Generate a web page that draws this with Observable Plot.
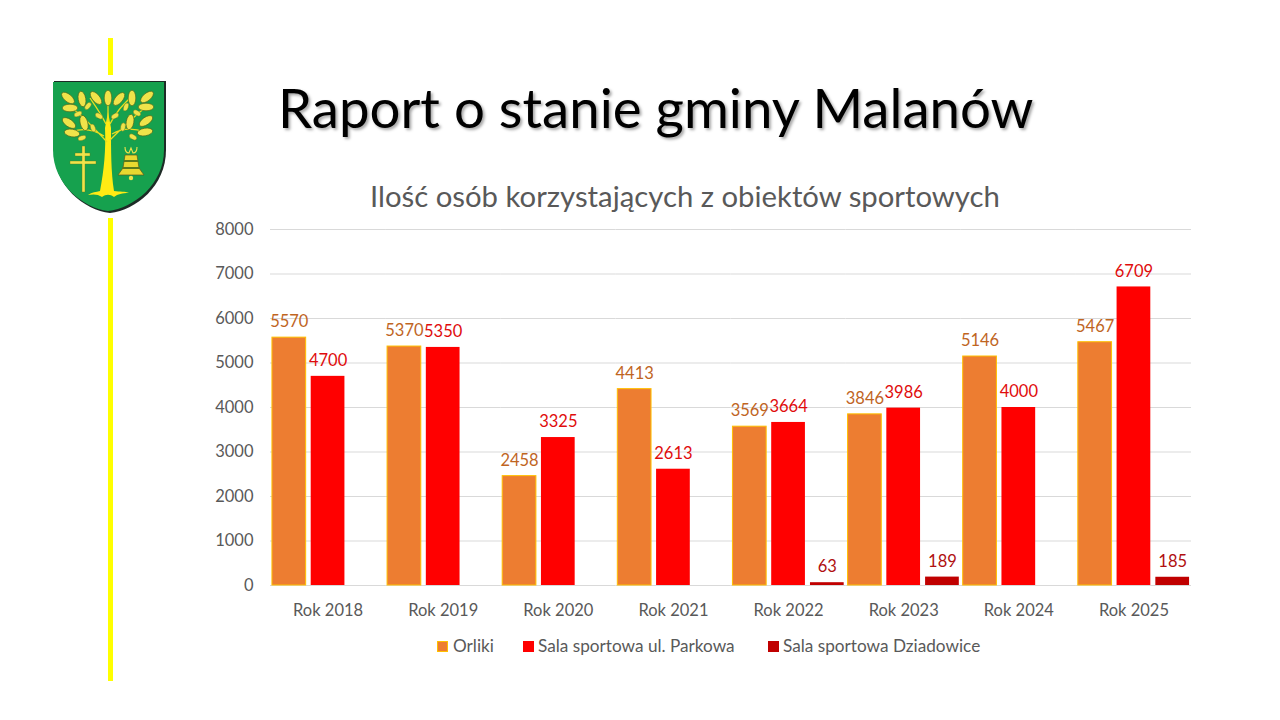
<!DOCTYPE html>
<html lang="pl">
<head>
<meta charset="utf-8">
<script src="https://cdn.jsdelivr.net/npm/d3@7"></script>
<script src="https://cdn.jsdelivr.net/npm/@observablehq/plot@0.6"></script>
<style>
  html,body{margin:0;padding:0;background:#fff;}
  #page{position:relative;width:1280px;height:720px;overflow:hidden;font-family:Lato,"Open Sans",sans-serif;}
  #crest{position:absolute;left:0;top:0;}
  #plot{position:absolute;left:0;top:0;width:1280px;height:720px;}
  .bar-line{position:absolute;left:108px;width:5px;background:#FFFF00;}
  h1{position:absolute;left:278px;top:72px;margin:0;font-weight:400;font-size:54.6px;line-height:70px;color:#000;white-space:nowrap;text-shadow:2px 2px 3px rgba(0,0,0,.35);}
  h2{position:absolute;left:370px;top:178px;margin:0;font-weight:400;font-size:29.3px;line-height:36px;color:#595959;white-space:nowrap;}
  #legend{position:absolute;top:635px;left:0;height:22px;font-size:17.2px;color:#595959;line-height:22px;}
  #legend span{position:absolute;white-space:nowrap;}
  #legend i{position:absolute;top:6px;width:11px;height:11px;box-sizing:border-box;}
</style>
</head>
<body>
<div id="page">
  <div class="bar-line" style="top:38px;height:37px"></div>
  <div class="bar-line" style="top:218px;height:463px"></div>
  <svg id="crest" width="1280" height="720" viewBox="0 0 1280 720" style="pointer-events:none"></svg>
  <h1>Raport o stanie gminy Malanów</h1>
  <h2>Ilość osób korzystających z obiektów sportowych</h2>
  <div id="plot"></div>
  <div id="legend"></div>
</div>
<script>
const years = ["Rok 2018","Rok 2019","Rok 2020","Rok 2021","Rok 2022","Rok 2023","Rok 2024","Rok 2025"];
const seriesNames = ["Orliki","Sala sportowa ul. Parkowa","Sala sportowa Dziadowice"];
const orliki = [5570,5370,2458,4413,3569,3846,5146,5467];
const parkowa = [4700,5350,3325,2613,3664,3986,4000,6709];
const dziadowice = [null,null,null,null,63,189,null,185];
const barColors = ["#ED7D31","#FF0000","#C00000"];
const labelColors = ["#C0651F","#E00C0C","#B01010"];
const yTicks = [0,1000,2000,3000,4000,5000,6000,7000,8000];

const rows = [];
[orliki,parkowa,dziadowice].forEach((vals,s)=>vals.forEach((v,i)=>{
  if(v!=null) rows.push({year:years[i],series:seriesNames[s],value:v});
}));

const chart = Plot.plot({
  width:1280,height:720,
  marginLeft:270,marginRight:89,marginTop:229,marginBottom:135,
  style:{background:"transparent",fontFamily:"Lato, sans-serif",fontSize:"16.5px",maxWidth:"none"},
  fx:{domain:years,paddingInner:0,paddingOuter:0,round:false,label:null},
  x:{domain:seriesNames,paddingInner:0.13,paddingOuter:0.05,round:false,axis:null},
  y:{domain:[0,8000],label:null},
  color:{domain:seriesNames,range:barColors},
  marks:[
    Plot.ruleY(yTicks,{stroke:"#D9D9D9",strokeWidth:1}),
    Plot.axisY({ticks:yTicks,tickSize:0,tickPadding:17,tickFormat:d=>String(d),fill:"#595959",label:null}),
    Plot.axisFx({anchor:"bottom",tickSize:0,tickPadding:19,fill:"#595959",label:null}),
    Plot.barY(rows,{fx:"year",x:"series",y:"value",fill:"series",
      stroke:d=>d.series===seriesNames[0]?"#FFC000":"none",strokeWidth:1}),
    Plot.text(rows,{fx:"year",x:"series",y:"value",text:d=>String(d.value),dy:-15.5,
      fill:d=>labelColors[seriesNames.indexOf(d.series)],fontSize:16.5})
  ]
});
document.getElementById("plot").appendChild(chart);

// Legend
const legend = document.getElementById("legend");
const legendX = [[437,453],[523,538],[768,783]];
seriesNames.forEach((n,i)=>{
  const sw=document.createElement("i");
  sw.style.left=legendX[i][0]+"px";
  sw.style.background=barColors[i];
  if(i===0) sw.style.border="1px solid #FFC000";
  legend.appendChild(sw);
  const t=document.createElement("span");
  t.style.left=legendX[i][1]+"px";
  t.textContent=n;
  legend.appendChild(t);
});

// Crest (decoration)
const leaves=[[68,98,40],[82,99,80],[96,98,50],[108,98,90],[119,99,-50],[132,98,90],[147,97,-40],
              [70,108,0],[146,107,0],[69,123,35],[84,123,75],[130,122,100],[146,121,-35],[72,133,10],[145,132,-10]];
const acorns=[[78,114,-25],[88,106,-50],[126,107,-70],[137,113,30],[82,138,-20],[133,137,30],[93,128,70],[123,127,100],[99,116,30],[115,116,-30]];
const c=d3.select("#crest");
c.append("path").attr("d","M54 81 H166 V150 C166 186 136 210 110 213 C84 210 54 186 54 150 Z").attr("fill","#1d2b26");
c.append("path").attr("d","M53 82 H164 V150 C164 184 134 208 108 211 C83 208 53 184 53 150 Z").attr("fill","#16A14E");
c.append("path").attr("d","M100 191 C104 170 106 150 105 128 L108 112 L111 128 C111 150 111 172 114 191 C120 192 125 191 129 193 C122 193 118 194 114 197 C110 194 106 194 102 197 C98 194 93 194 88 195 C92 192 96 192 100 191 Z").attr("fill","#FFEB14");
c.append("path").attr("d","M107 142 C96 130 85 118 72 108 M110 140 C122 128 132 118 146 107 M106 124 C100 112 94 104 90 98 M110 124 C116 112 122 106 130 98 M108 122 V100 M104 136 C94 130 82 128 72 132 M112 134 C122 128 134 128 145 132")
  .attr("fill","none").attr("stroke","#E8DD20").attr("stroke-width",1.3);
leaves.forEach(([x,y,a])=>c.append("ellipse").attr("cx",x).attr("cy",y).attr("rx",7.8).attr("ry",3.8)
  .attr("transform",`rotate(${a} ${x} ${y})`).attr("fill","#EFE34A").attr("stroke","#4d6a1c").attr("stroke-width",.7));
acorns.forEach(([x,y,a])=>c.append("ellipse").attr("cx",x).attr("cy",y).attr("rx",4.2).attr("ry",2.4)
  .attr("transform",`rotate(${a} ${x} ${y})`).attr("fill","#EFE34A").attr("stroke","#4d6a1c").attr("stroke-width",.4));
c.append("path").attr("d","M82 146 H85 V153 H90 V156 H85 V161 H96 V164 H85 V192 H82 V164 H70 V161 H82 V156 H75 V153 H82 Z").attr("fill","#EFE34A").attr("stroke","#5a7a1c").attr("stroke-width",.4);
c.append("path").attr("d","M125 155 H137 L139 168 L144 175 H118 L123 168 Z").attr("fill","#E8D830").attr("stroke","#5a5a1c").attr("stroke-width",.7);
c.append("path").attr("d","M124 161 H138 M122 168 H140").attr("stroke","#5a7a1c").attr("stroke-width",2);
c.append("path").attr("d","M125 147 C125 152 127 153 129 153 L131 148 L133 153 C135 153 137 152 137 147").attr("fill","none").attr("stroke","#EFE34A").attr("stroke-width",1.1);
c.append("circle").attr("cx",131).attr("cy",178).attr("r",2.2).attr("fill","#EFE34A");
</script>
</body>
</html>
